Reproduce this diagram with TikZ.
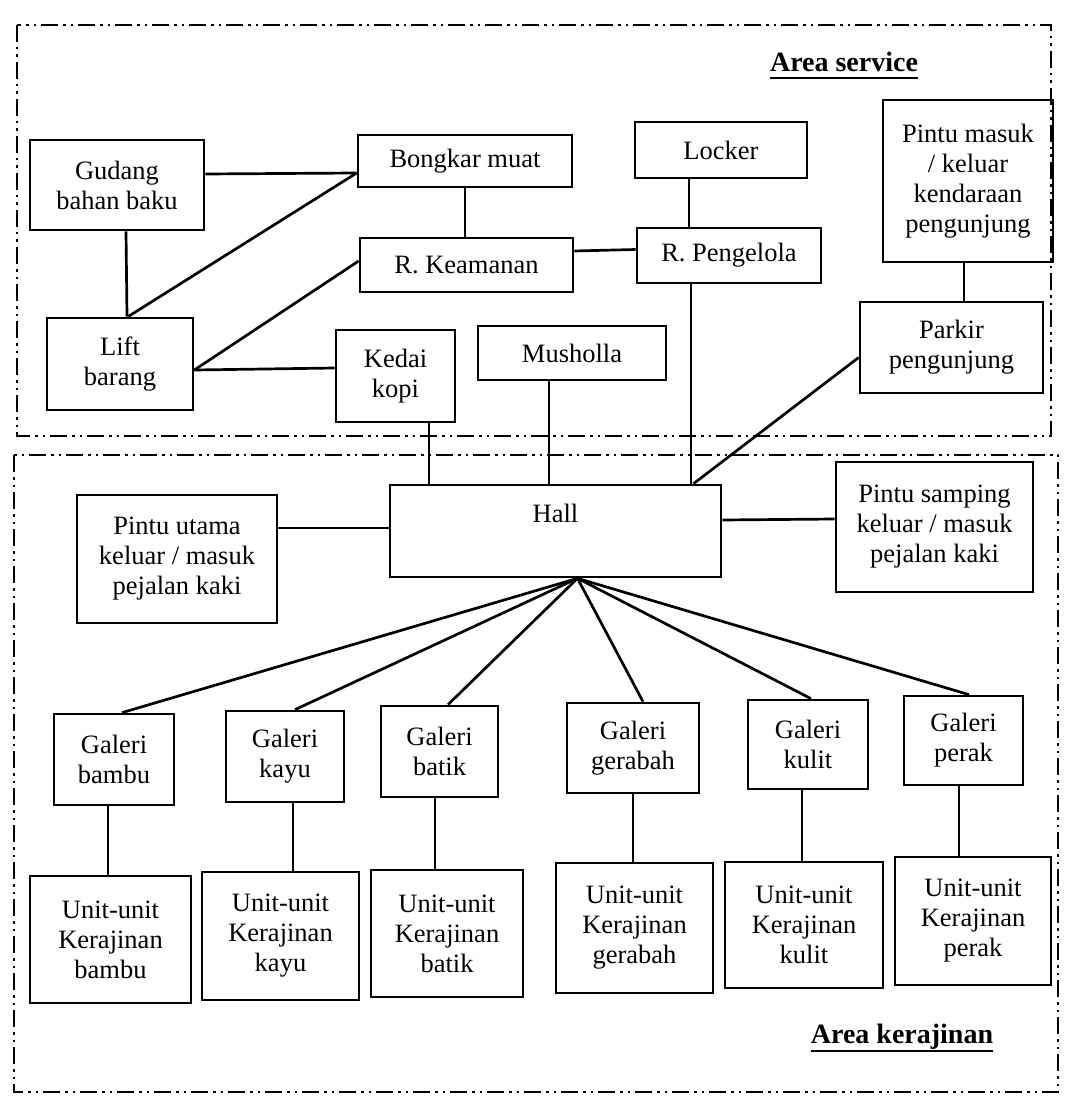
\documentclass[tikz,border=0pt]{standalone}
\usepackage{fontspec}
\setmainfont{Liberation Serif}
\begin{document}
\begin{tikzpicture}[x=1pt,y=-1pt,
  box/.style={draw, line width=2.7pt, inner sep=0pt, align=center,
    font=\fontsize{26.5}{30}\selectfont},
  conn/.style={line width=2.7pt},
  region/.style={line width=2.7pt, dash pattern=on 17pt off 5pt on 2.5pt off 5pt on 2.5pt off 5pt},
  areatitle/.style={font=\fontsize{28}{32}\selectfont\bfseries, inner sep=0pt, anchor=base}]
\useasboundingbox (0,0) rectangle (1076,1107);
% region frames
\draw[region] (17,25) rectangle (1051,436);
\draw[region] (14,455) rectangle (1058,1092);
% area titles
\node[areatitle] (as) at (844,72) {Area service};
\draw[line width=2.2pt] ([yshift=-6pt]as.base west) -- ([yshift=-6pt]as.base east);
\node[areatitle] (ak) at (902,1043) {Area kerajinan};
\draw[line width=2.2pt] ([yshift=-8pt]ak.base west) -- ([yshift=-8pt]ak.base east);
% service nodes
\node[box, minimum width=174, minimum height=90] (gud) at (117,185) {Gudang\\bahan baku};
\node[box, minimum width=214, minimum height=52] (bong) at (465,161) {Bongkar muat};
\node[box, minimum width=213, minimum height=54] (keam) at (466.5,265) {R. Keamanan};
\node[box, minimum width=146, minimum height=92] (lift) at (120,364) {Lift\\barang};
\node[box, minimum width=119, minimum height=92] (kedai) at (395.5,376) {Kedai\\kopi};
\node[box, minimum width=188, minimum height=54] (mush) at (572,353) {Musholla};
\node[box, minimum width=172, minimum height=56] (lock) at (721,150) {Locker};
\node[box, minimum width=184, minimum height=55] (peng) at (729,255.5) {R. Pengelola};
\node[box, minimum width=170, minimum height=162] (pm) at (968,181) {Pintu masuk\\/ keluar\\kendaraan\\pengunjung};
\node[box, minimum width=183, minimum height=91] (park) at (951.5,347.5) {Parkir\\pengunjung};
% kerajinan nodes
\node[box, minimum width=331, minimum height=92,
  label={[anchor=north, inner sep=0pt, yshift=-20pt, font=\fontsize{26.5}{30}\selectfont]north:Hall}] (hall) at (555.5,531) {};
\node[box, minimum width=200, minimum height=128] (pu) at (177,559) {Pintu utama\\keluar / masuk\\pejalan kaki};
\node[box, minimum width=197, minimum height=130] (ps) at (934.5,527) {Pintu samping\\keluar / masuk\\pejalan kaki};
\node[box, minimum width=120, minimum height=91] (gb) at (114,759.5) {Galeri\\bambu};
\node[box, minimum width=118, minimum height=91] (gk) at (285,756.5) {Galeri\\kayu};
\node[box, minimum width=117, minimum height=91] (gt) at (439.5,751.5) {Galeri\\batik};
\node[box, minimum width=132, minimum height=90] (gg) at (633,748) {Galeri\\gerabah};
\node[box, minimum width=120, minimum height=89] (gl) at (808,744.5) {Galeri\\kulit};
\node[box, minimum width=119, minimum height=89] (gp) at (963.5,740.5) {Galeri\\perak};
\node[box, minimum width=161, minimum height=127] (ub) at (110.5,939.5) {Unit-unit\\Kerajinan\\bambu};
\node[box, minimum width=157, minimum height=128] (uk) at (280.5,936) {Unit-unit\\Kerajinan\\kayu};
\node[box, minimum width=152, minimum height=127] (ut) at (447,933.5) {Unit-unit\\Kerajinan\\batik};
\node[box, minimum width=157, minimum height=130] (ug) at (634.5,928) {Unit-unit\\Kerajinan\\gerabah};
\node[box, minimum width=158, minimum height=126] (ul) at (804,925) {Unit-unit\\Kerajinan\\kulit};
\node[box, minimum width=156, minimum height=128] (up) at (973,921) {Unit-unit\\Kerajinan\\perak};
% service connectors
\draw[conn] ([yshift=11pt]gud.east) -- ([yshift=-12pt]bong.west);
\draw[conn] ([xshift=9pt]gud.south) -- ([xshift=7pt]lift.north);
\draw[conn] ([xshift=8pt]lift.north) -- ([yshift=-12pt]bong.west);
\draw[conn] ([yshift=-6pt]lift.east) -- ([yshift=4pt]keam.west);
\draw[conn] ([yshift=-6pt]lift.east) -- ([yshift=8pt]kedai.west);
\draw[conn] (bong.south) -- (bong.south |- keam.north);
\draw[conn] ([yshift=14pt]keam.east) -- ([yshift=6pt]peng.west);
\draw[conn] ([xshift=-32pt]lock.south) -- ([xshift=-32pt]lock.south |- peng.north);
\draw[conn] ([xshift=-4pt]pm.south) -- ([xshift=-4pt]pm.south |- park.north);
% links to hall
\draw[conn] ([xshift=-38pt]peng.south) -- ([xshift=-38pt]peng.south |- hall.north);
\draw[conn] ([yshift=-10pt]park.west) -- ([xshift=138pt]hall.north);
\draw[conn] ([xshift=33.5pt]kedai.south) -- ([xshift=33.5pt]kedai.south |- hall.north);
\draw[conn] ([xshift=-23pt]mush.south) -- ([xshift=-23pt]mush.south |- hall.north);
\draw[conn] ([yshift=31pt]pu.east) -- ([yshift=3pt]hall.west);
\draw[conn] ([yshift=11pt]hall.east) -- ([yshift=8pt]ps.west);
% fan to galleries
\coordinate (hb) at ([xshift=22pt]hall.south);
\draw[conn] (hb) -- ([xshift=8pt]gb.north);
\draw[conn] (hb) -- ([xshift=10pt]gk.north);
\draw[conn] (hb) -- ([xshift=8.5pt]gt.north);
\draw[conn] (hb) -- ([xshift=10pt]gg.north);
\draw[conn] (hb) -- ([xshift=3pt]gl.north);
\draw[conn] (hb) -- ([xshift=5.5pt]gp.north);
% galleries to units
\draw[conn] ([xshift=-6pt]gb.south) -- ([xshift=-6pt]gb.south |- ub.north);
\draw[conn] ([xshift=8pt]gk.south) -- ([xshift=8pt]gk.south |- uk.north);
\draw[conn] ([xshift=-4.5pt]gt.south) -- ([xshift=-4.5pt]gt.south |- ut.north);
\draw[conn] (gg.south) -- (gg.south |- ug.north);
\draw[conn] ([xshift=-6pt]gl.south) -- ([xshift=-6pt]gl.south |- ul.north);
\draw[conn] ([xshift=-4.5pt]gp.south) -- ([xshift=-4.5pt]gp.south |- up.north);
\end{tikzpicture}
\end{document}
